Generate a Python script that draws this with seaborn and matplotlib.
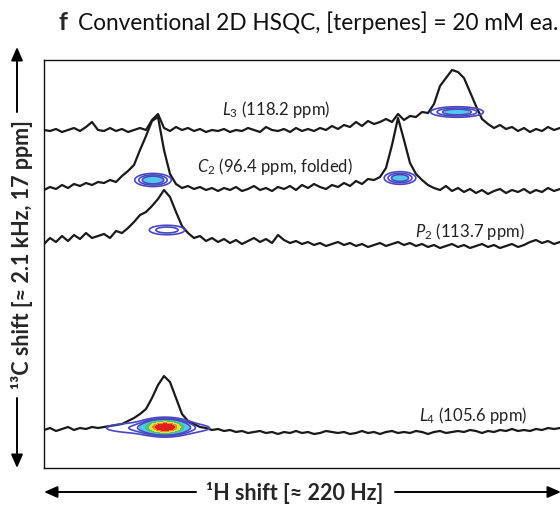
import numpy as np
import pandas as pd
import matplotlib
matplotlib.use("Agg")
import matplotlib.pyplot as plt
import seaborn as sns

# ---------------- data ----------------
# 1H axis sample positions (arbitrary units, left -> right)
X = list(range(44, 566, 6))  # 87 points

L3 = [130,131,129,132,130,128,131,127,122,130,
      131,128,131,129,132,130,128,130,120,114,
      128,131,127,130,128,131,129,132,130,131,
      129,132,130,131,128,130,132,127,130,131,
      129,132,128,131,129,131,128,130,126,129,
      125,127,122,126,121,124,122,119,122,114,
      120,116,117,112,113,104,86,78,70,72,
      78,92,106,119,124,128,125,129,127,131,
      128,132,129,131,127,130,128]

C2 = [190,187,189,185,188,184,186,183,185,182,
      183,180,182,176,171,165,150,136,121,117,
      150,174,184,188,186,189,187,190,188,191,
      188,190,187,191,189,186,190,188,191,187,
      189,186,190,185,188,184,187,189,185,187,
      183,186,181,184,179,180,177,168,145,118,
      140,163,174,180,185,188,190,186,191,188,
      192,189,193,190,194,191,189,193,190,192,
      189,193,190,192,188,191,189]

P2 = [244,238,242,236,241,235,239,233,238,236,
      234,238,231,233,228,222,215,212,206,199,
      190,197,212,226,233,238,236,241,238,242,
      239,243,240,244,241,238,242,239,243,235,
      240,243,241,244,242,245,243,246,244,242,
      245,243,246,244,247,245,243,246,244,242,
      245,243,246,244,247,245,248,246,244,247,
      245,248,246,244,247,245,248,246,244,247,
      245,242,240,243,241,244,242]

L4 = [430,428,431,429,427,430,428,429,427,428,
      427,426,425,424,421,418,414,409,398,385,
      376,382,398,414,421,424,427,428,430,429,
      431,430,432,431,433,432,431,433,432,434,
      432,433,431,433,432,434,433,431,432,433,
      432,434,433,431,433,432,434,432,431,433,
      432,433,431,432,434,432,431,433,432,431,
      432,430,431,433,431,432,430,431,429,431,
      430,431,429,430,428,429,428]

trace_names = ["L3", "C2", "P2", "L4"]
trace_values = [L3, C2, P2, L4]

# 2D cross peaks: centre (1H, 13C), widths, intensity
peak_x = [457, 153, 400, 167, 165, 158]
peak_y = [112, 180, 178, 230, 427, 428]
peak_wx = [15, 10, 9, 12, 11, 38]
peak_wy = [3.0, 3.6, 3.6, 3.2, 4.0, 4.2]
peak_amp = [1.5, 1.7, 1.5, 0.95, 6.0, 0.8]

labels = [r"$\mathit{L}_{3}$ (118.2 ppm)", r"$\mathit{C}_{2}$ (96.4 ppm, folded)",
          r"$\mathit{P}_{2}$ (113.7 ppm)", r"$\mathit{L}_{4}$ (105.6 ppm)"]
label_x = [222, 197, 415, 419]
label_y = [109, 166, 231, 415]

# ---------------- style ----------------
sns.set_style("white")
plt.rcParams["font.family"] = ["Lato", "DejaVu Sans"]
plt.rcParams["mathtext.fontset"] = "custom"
plt.rcParams["mathtext.rm"] = "Lato"
plt.rcParams["mathtext.it"] = "Lato:italic"
plt.rcParams["mathtext.bf"] = "Lato:bold"

W, H = 560, 505
fig = plt.figure(figsize=(W / 100, H / 100), dpi=100)
ax = fig.add_axes([44 / W, 37 / H, 530 / W, 408 / H])
ax.set_xlim(44, 574)
ax.set_ylim(468, 60)

df = pd.concat([pd.DataFrame({"x": X, "y": v, "trace": n})
                for n, v in zip(trace_names, trace_values)])
sns.lineplot(data=df, x="x", y="y", units="trace", estimator=None, sort=False,
             color="#1a1a1a", lw=1.6, ax=ax, zorder=2)

# cross-peak contours
gx = np.linspace(44, 574, 1060)
gy = np.linspace(60, 468, 816)
GX, GY = np.meshgrid(gx, gy)
Z = np.zeros_like(GX)
for cx, cy, wx, wy, a in zip(peak_x, peak_y, peak_wx, peak_wy, peak_amp):
    Z += a * np.exp(-0.5 * (((GX - cx) / wx) ** 2 + ((GY - cy) / wy) ** 2))

ax.contourf(GX, GY, Z, levels=[1.1, 2.0, 3.0, 4.0, 5.0, 20],
            colors=["#52c6ee", "#4cc27a", "#e6e23a", "#f28a1e", "#e0201e"], zorder=3)
ax.contour(GX, GY, Z, levels=[0.32, 0.62, 0.95], colors=["#4a48c0"],
           linewidths=1.2, zorder=4)

for t, lx, ly in zip(labels, label_x, label_y):
    ax.text(lx, ly, t, fontsize=12, ha="left", va="center", color="#222222", zorder=5)

ax.set_xticks([])
ax.set_yticks([])
ax.set_xlabel("")
ax.set_ylabel("")
for s in ["top", "left", "bottom", "right"]:
    ax.spines[s].set_color("#111111")
    ax.spines[s].set_linewidth(1.0)

# title
fig.text(58 / W, 1 - 22 / H, "f", fontsize=18, fontweight="bold", ha="left", va="center")
fig.text(78 / W, 1 - 23 / H, "Conventional 2D HSQC, [terpenes] = 20 mM ea.",
         fontsize=16.3, ha="left", va="center", color="#111111")

# axis labels with arrows
fig.text(295 / W, 1 - 493 / H, "¹H shift [≈ 220 Hz]", fontsize=15.5, fontweight="bold",
         ha="center", va="center")
ap = dict(arrowstyle="-|>,head_length=0.8,head_width=0.35", color="black", lw=1.4,
          shrinkA=0, shrinkB=0, mutation_scale=10)
fig.add_artist(matplotlib.patches.FancyArrowPatch((196, H - 492), (44, H - 492),
               transform=None, **ap))
fig.add_artist(matplotlib.patches.FancyArrowPatch((395, H - 492), (561, H - 492),
               transform=None, **ap))

fig.text(22 / W, 1 - 255 / H, "¹³C shift [≈ 2.1 kHz, 17 ppm]", fontsize=15.5,
         fontweight="bold", ha="center", va="center", rotation=90)
fig.add_artist(matplotlib.patches.FancyArrowPatch((17, H - 112), (17, H - 47),
               transform=None, **ap))
fig.add_artist(matplotlib.patches.FancyArrowPatch((17, H - 398), (17, H - 468),
               transform=None, **ap))

fig.savefig("out.png", dpi=100)
